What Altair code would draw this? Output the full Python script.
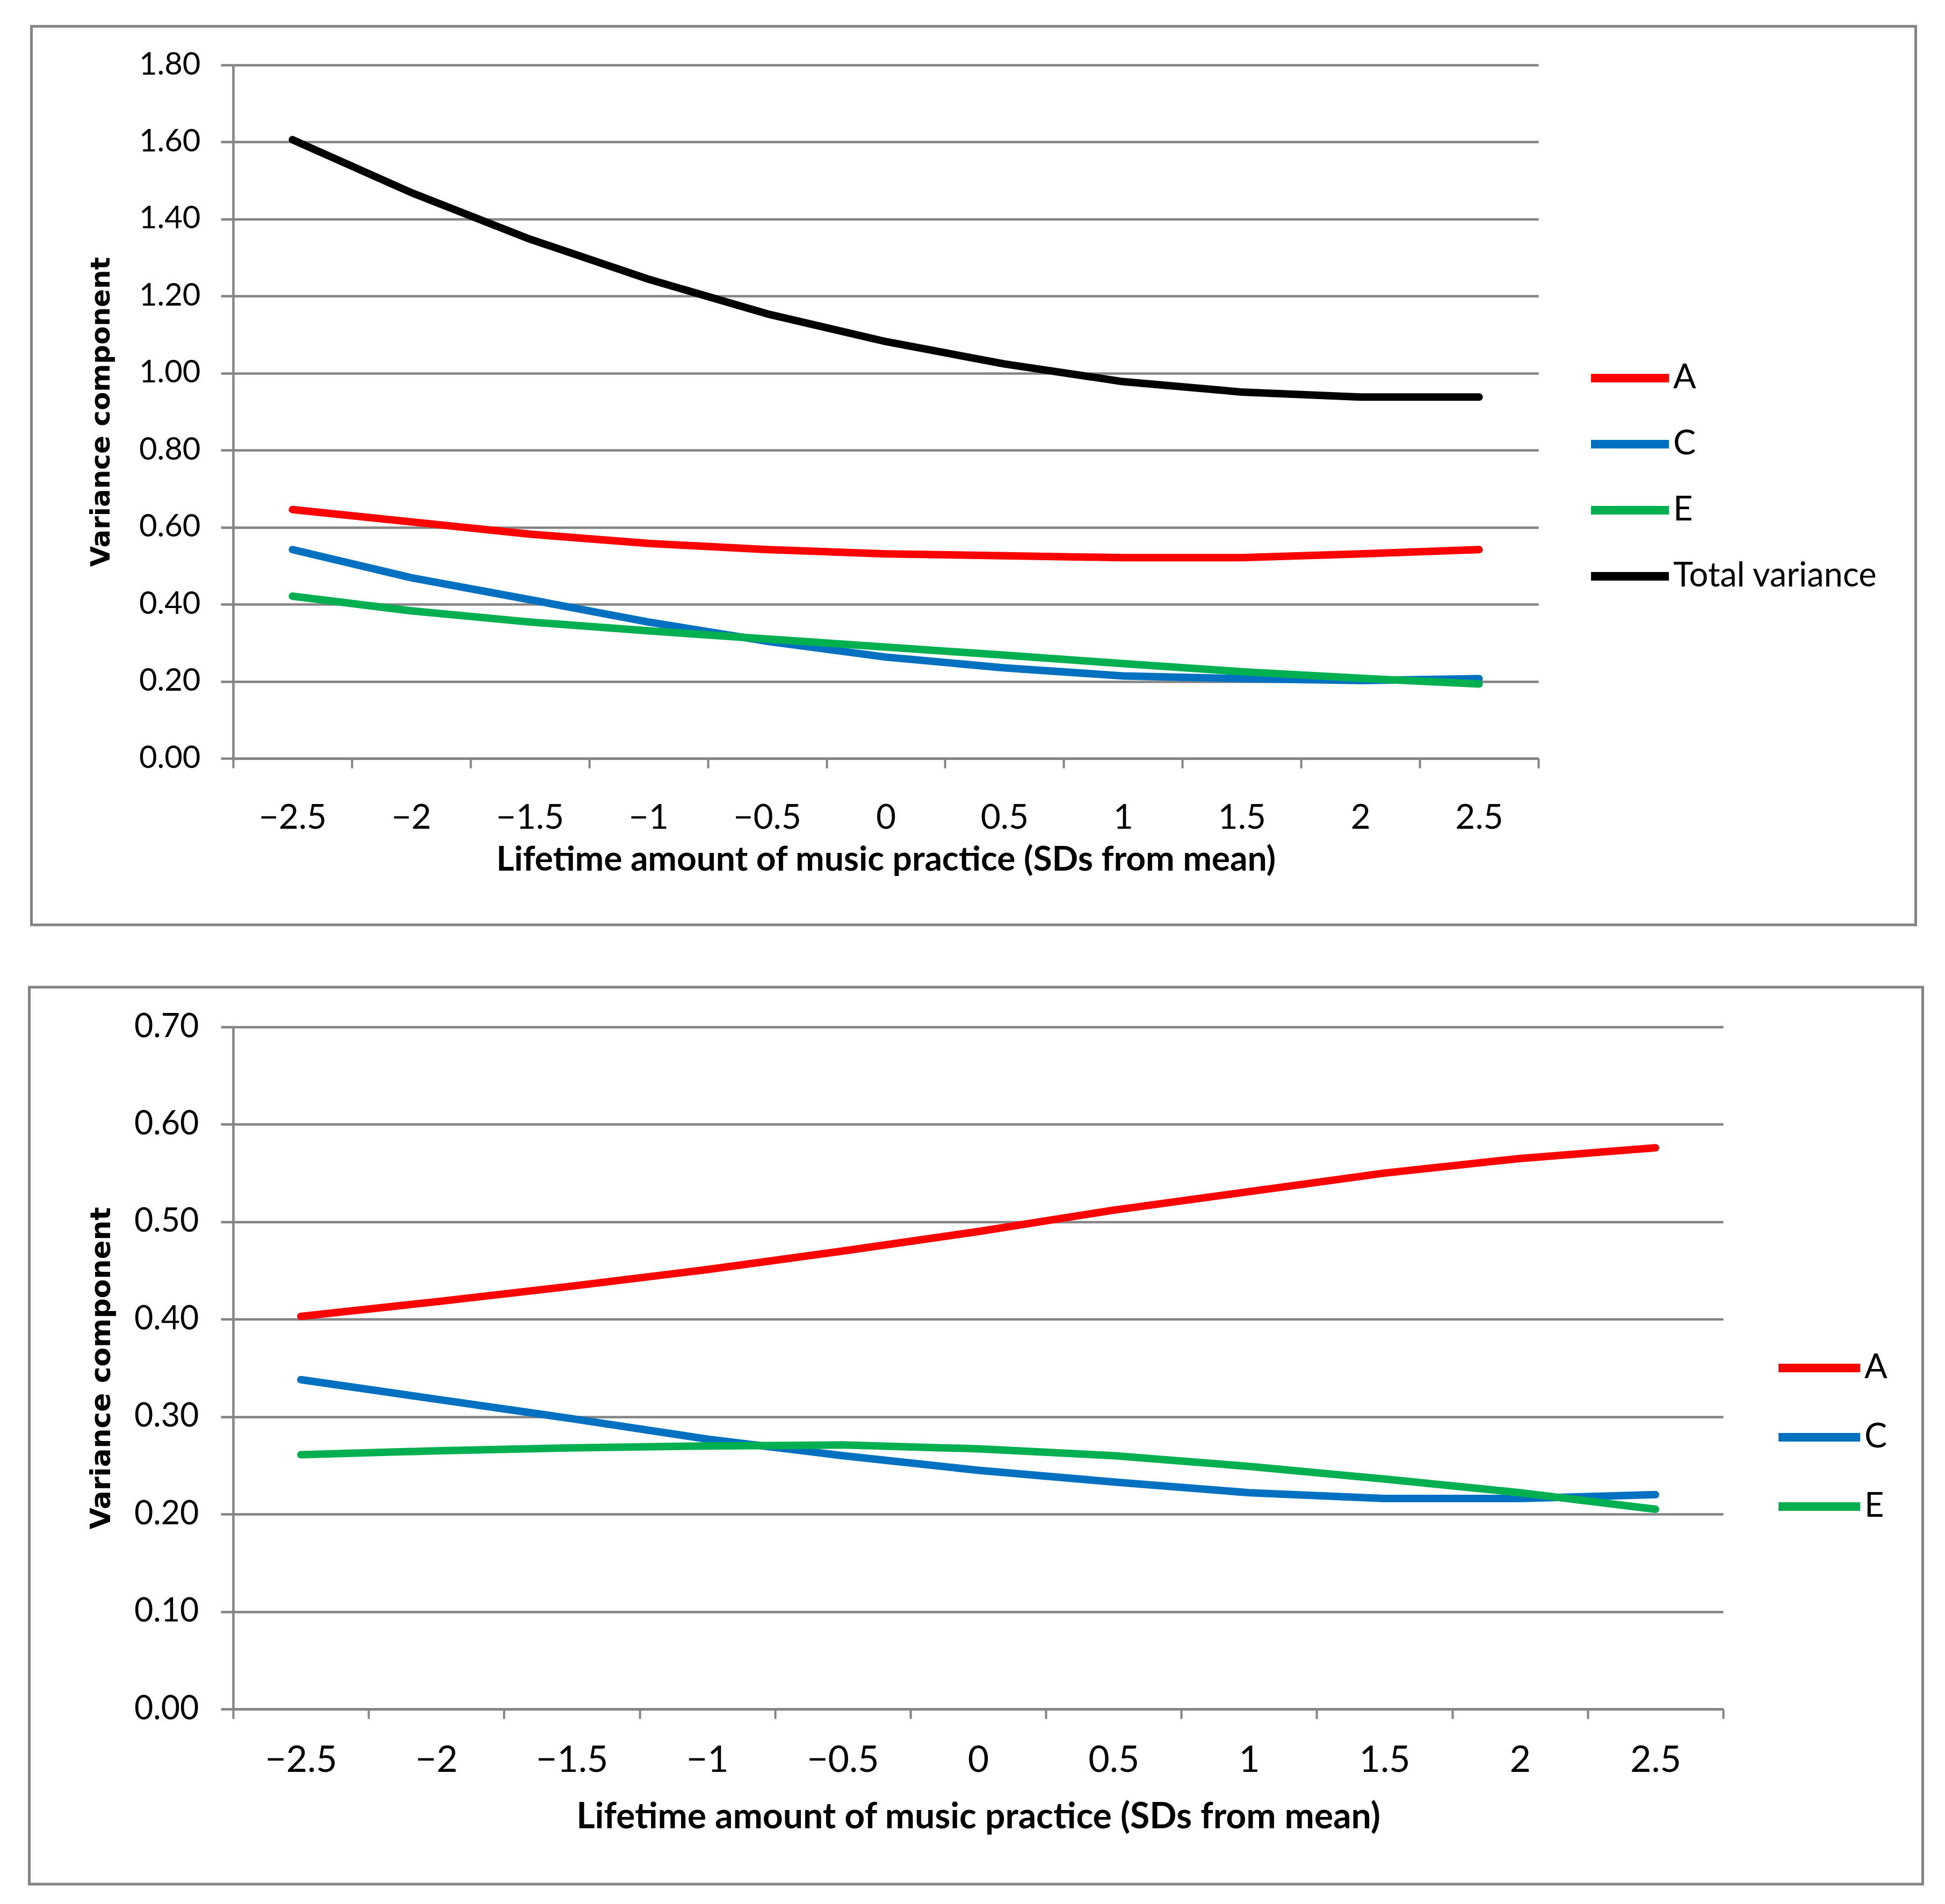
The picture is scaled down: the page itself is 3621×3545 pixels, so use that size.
import altair as alt
import pandas as pd

# ---- data ----
x_labels = ["\u22122.5", "\u22122", "\u22121.5", "\u22121", "\u22120.5", "0", "0.5", "1", "1.5", "2", "2.5"]

series_top = ["A", "C", "E", "Total variance"]
a_top = [0.646, 0.614, 0.582, 0.558, 0.542, 0.531, 0.526, 0.521, 0.521, 0.531, 0.542]
c_top = [0.542, 0.469, 0.412, 0.354, 0.304, 0.263, 0.235, 0.214, 0.207, 0.202, 0.207]
e_top = [0.421, 0.383, 0.354, 0.331, 0.310, 0.289, 0.268, 0.246, 0.225, 0.208, 0.193]
t_top = [1.606, 1.469, 1.348, 1.244, 1.154, 1.082, 1.024, 0.978, 0.951, 0.938, 0.938]

series_bot = ["A", "C", "E"]
a_bot = [0.403, 0.418, 0.434, 0.451, 0.470, 0.490, 0.512, 0.531, 0.550, 0.565, 0.576]
c_bot = [0.338, 0.318, 0.298, 0.277, 0.260, 0.245, 0.233, 0.222, 0.216, 0.216, 0.220]
e_bot = [0.261, 0.265, 0.268, 0.270, 0.271, 0.267, 0.260, 0.249, 0.236, 0.222, 0.205]

y_ticks_top = [0.0, 0.2, 0.4, 0.6, 0.8, 1.0, 1.2, 1.4, 1.6, 1.8]
y_ticks_bot = [0.0, 0.1, 0.2, 0.3, 0.4, 0.5, 0.6, 0.7]

colors_top = ["#FF0000", "#0070C0", "#00B050", "#000000"]
colors_bot = ["#FF0000", "#0070C0", "#00B050"]

x_title = "Lifetime amount of music practice (SDs from mean)"
y_title = "Variance component"


def long_df(names, arrays):
    rows = []
    for name, vals in zip(names, arrays):
        for lab, v in zip(x_labels, vals):
            rows.append({"x": lab, "value": v, "series": name})
    return pd.DataFrame(rows)


df_top = long_df(series_top, [a_top, c_top, e_top, t_top])
df_bot = long_df(series_bot, [a_bot, c_bot, e_bot])

GRID = "#848484"
TICK_FONT = "Lato, 'Liberation Sans', sans-serif"
YTITLE_FONT = "'DejaVu Sans', Verdana, sans-serif"


def panel(df, names, colors, width, height, ymax, yticks, s):
    lines = alt.Chart(df).mark_line(
        strokeWidth=14, strokeCap="round", strokeJoin="round"
    ).encode(
        x=alt.X(
            "x:N",
            sort=x_labels,
            scale=alt.Scale(type="band", paddingInner=0, paddingOuter=0),
            axis=alt.Axis(
                title=x_title,
                grid=False,
                tickBand="extent",
                tickSize=18,
                tickWidth=4,
                tickColor=GRID,
                domainColor=GRID,
                domainWidth=4.5,
                labelAngle=0,
                labelOverlap=False,
                labelFont=TICK_FONT,
                labelFontSize=s["xlab"],
                labelColor="#000000",
                labelPadding=s["xpad"],
                titleFont=TICK_FONT,
                titleFontWeight="bold",
                titleFontSize=s["xtitle"],
                titleColor="#000000",
                titleBaseline="middle",
                titleX=width / 2,
                titleY=s["xtitleY"],
            ),
        ),
        y=alt.Y(
            "value:Q",
            scale=alt.Scale(domain=[0, ymax], nice=False, zero=True),
            axis=alt.Axis(
                title=y_title,
                values=yticks,
                format=".2f",
                grid=True,
                gridColor=GRID,
                gridWidth=4.5,
                gridOpacity=1,
                tickSize=23,
                tickWidth=4.5,
                tickColor=GRID,
                domainColor=GRID,
                domainWidth=4.5,
                labelFont=TICK_FONT,
                labelFontSize=s["ylab"],
                labelColor="#000000",
                labelPadding=s["ypad"],
                titleFont=YTITLE_FONT,
                titleFontWeight="bold",
                titleFontSize=s["ytitle"],
                titleColor="#000000",
                titleAngle=270,
                titleAlign="center",
                titleBaseline="middle",
                titleX=s["ytitleX"],
                titleY=height / 2,
            ),
        ),
        color=alt.Color(
            "series:N",
            scale=alt.Scale(domain=names, range=colors),
            sort=names,
            legend=alt.Legend(
                title=None,
                orient="none",
                legendX=s["legX"],
                legendY=s["legY"],
                symbolType="stroke",
                symbolSize=s["symSize"],
                symbolStrokeWidth=16,
                clipHeight=60,
                rowPadding=s["rowPad"],
                padding=0,
                labelFont=TICK_FONT,
                labelFontSize=63,
                labelColor="#000000",
                labelOffset=0,
                labelLimit=1000,
            ),
        ),
    )
    box = alt.Chart(pd.DataFrame({"box": [0]})).mark_rect(
        fillOpacity=0, stroke=GRID, strokeWidth=5
    ).encode(
        x=alt.value(s["box"][0]),
        x2=alt.value(s["box"][1]),
        y=alt.value(s["box"][2]),
        y2=alt.value(s["box"][3]),
    )
    return alt.layer(lines, box).properties(width=width, height=height)


top = panel(
    df_top, series_top, colors_top, 2430, 1291, 1.8, y_ticks_top,
    dict(xlab=64, xpad=61, xtitle=64, xtitleY=189, ylab=58, ypad=38,
         ytitle=50, ytitleX=-246, legX=2520, legY=553, symSize=21025,
         rowPad=60, box=(-375.5, 3132.5, -72, 1601)),
)
bottom = panel(
    df_bot, series_bot, colors_bot, 2774, 1270, 0.7, y_ticks_bot,
    dict(xlab=68, xpad=44, xtitle=66, xtitleY=201, ylab=61, ypad=41,
         ytitle=52, ytitleX=-246, legX=2869, legY=605, symSize=23104,
         rowPad=66, box=(-379.5, 3145.5, -74, 1596)),
)

chart = alt.vconcat(top, bottom, spacing=110).resolve_scale(
    color="independent", x="independent", y="independent"
).resolve_legend(color="independent").properties(
    padding={"left": 43, "top": 38, "right": 5, "bottom": 5},
    background="#FFFFFF",
).configure_view(stroke="transparent")

chart.save("out.html", embed_options={"renderer": "svg", "actions": False})
